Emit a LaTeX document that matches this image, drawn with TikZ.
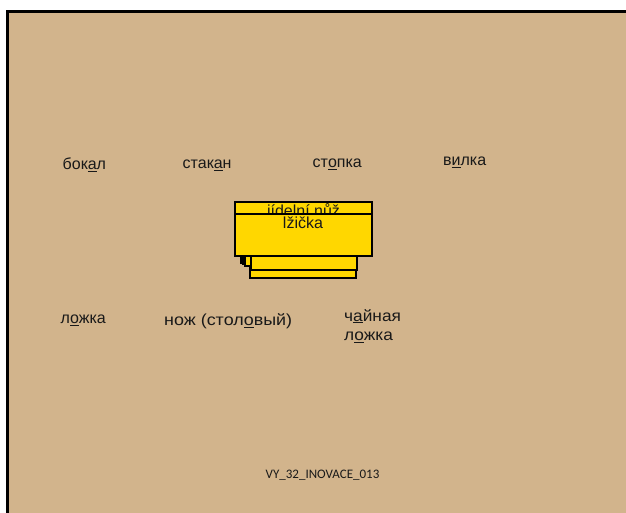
\documentclass[tikz,border=0pt]{standalone}
\usepackage{fontspec}
\setmainfont{Liberation Sans}
\newfontfamily\smallfont{Carlito}
\definecolor{bgtan}{RGB}{210,180,140}
\definecolor{boxgold}{RGB}{255,215,0}
\begin{document}
\begin{tikzpicture}[x=1pt,y=-1pt,
  word/.style={anchor=west,inner sep=0pt,font=\fontsize{16}{19.5}\selectfont,text=black!90},
  card/.style={draw=black,line width=2pt,fill=boxgold},
  cardtext/.style={inner sep=0pt,font=\fontsize{16}{18}\selectfont,text=black!90}]
\useasboundingbox (0,0) rectangle (626,513);
\fill[white] (0,0) rectangle (626,513);
\fill[bgtan] (7.5,11.5) rectangle (630,520);
\draw[line width=2.5pt] (7.5,520) -- (7.5,11.5) -- (630,11.5);
% words
\node[word] (w1) at (62.5,165) {бок\underline{а}л};
\node[word] (w2) at (182.5,165) {стак\underline{а}н};
\node[word] (w3) at (312.5,164) {ст\underline{о}пка};
\node[word] (w4) at (443,162.5) {в\underline{и}лка};
\node[word] (w5) at (60.5,320) {л\underline{о}жка};
\node[word] (w6) at (164,321.5) {\scalebox{1.12}[1]{нож (стол\underline{о}вый)}};
\node[word,align=left] (w7) at (344,326) {\scalebox{1.08}[1]{ч\underline{а}йная}\\\scalebox{1.08}[1]{л\underline{о}жка}};
% stack of cards
\draw[card] (249.5,262) rectangle (355.7,277.7);
\draw[card] (240.7,230) rectangle (340,262.5);
\draw[card] (243,230) rectangle (342,264);
\draw[card] (245.3,230) rectangle (344,265.5);
\draw[card] (250.7,240) rectangle (356.7,270);
\draw[card] (235.3,202.3) rectangle (371.7,250);
\begin{scope}
\clip (235.3,203.3) rectangle (371.7,213);
\node[cardtext] (c1) at (303.5,211.5) {jídelní nůž};
\end{scope}
\draw[card] (234.7,214) rectangle (372.3,256);
\node[cardtext] (c2) at (303,223) {lžička};
\node[inner sep=0pt,font=\smallfont\fontsize{13}{15}\selectfont,text=black!90] (code) at (322.5,475.5) {VY\_32\_INOVACE\_013};
\end{tikzpicture}
\end{document}
